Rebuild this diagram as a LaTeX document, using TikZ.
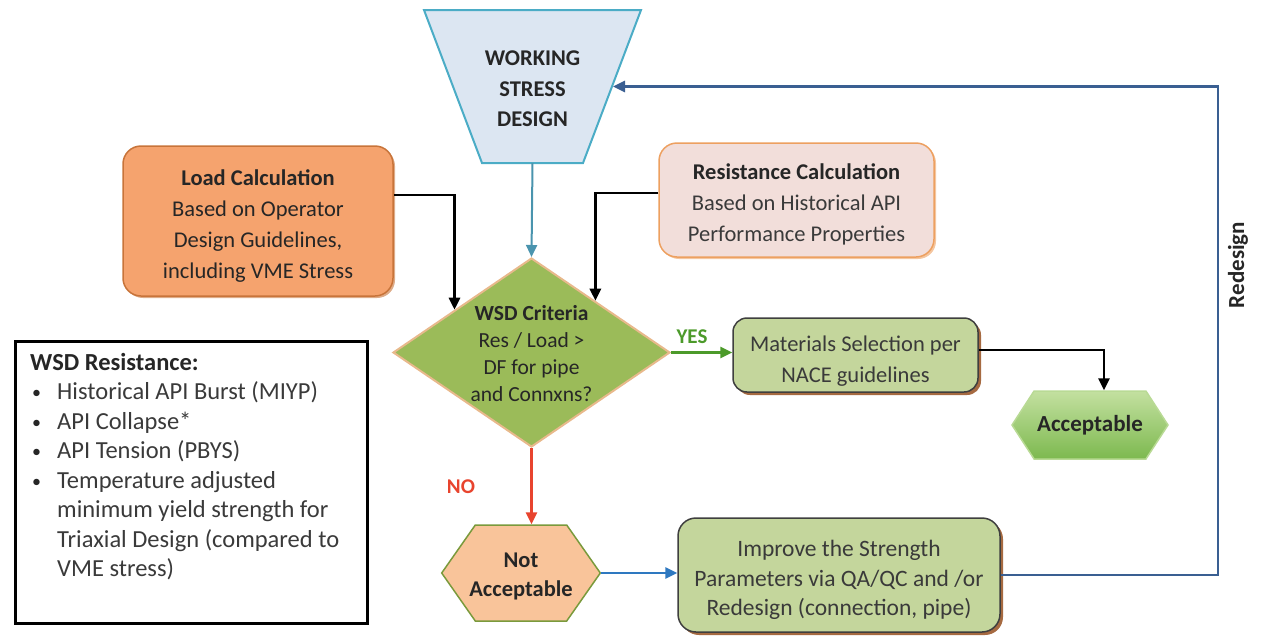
\documentclass[tikz,border=0pt]{standalone}
\usepackage{fontspec}
\setmainfont{Carlito}
\usetikzlibrary{shapes.geometric,shapes.symbols,arrows.meta,shadows,calc}
\definecolor{trapfill}{HTML}{DCE6F2}
\definecolor{trapdraw}{HTML}{4BACC6}
\definecolor{tealarr}{HTML}{4A94AE}
\definecolor{loadfill}{HTML}{F5A36E}
\definecolor{loaddraw}{HTML}{C8743A}
\definecolor{resfill}{HTML}{F2DEDA}
\definecolor{resdraw}{HTML}{EDA060}
\definecolor{critfill}{HTML}{9BBB59}
\definecolor{critdraw}{HTML}{E8B98C}
\definecolor{matfill}{HTML}{C4D69C}
\definecolor{matdraw}{HTML}{3F3F3F}
\definecolor{shbrown}{HTML}{9C5A2C}
\definecolor{acctop}{HTML}{C3E0A0}
\definecolor{accbot}{HTML}{7DB94F}
\definecolor{accdraw}{HTML}{B9DA95}
\definecolor{naccfill}{HTML}{F9C49A}
\definecolor{naccdraw}{HTML}{7A9A3C}
\definecolor{yesgreen}{HTML}{4C9A2A}
\definecolor{nored}{HTML}{E8442E}
\definecolor{bluearr}{HTML}{2E78C0}
\definecolor{redes}{HTML}{3A5F92}
\definecolor{txt}{HTML}{262626}
\definecolor{txtg}{HTML}{3A3A3A}
\newcommand{\wsdbul}{\makebox[27pt][l]{\hspace{2pt}\raisebox{1pt}{\fontsize{18}{18}\selectfont\textbullet}}}
\newcommand{\wsdind}{\hspace*{27pt}}
\newcommand{\tup}{\rule{0pt}{25pt}}
\begin{document}
\begin{tikzpicture}[x=1pt,y=-1pt,
  every node/.style={font=\fontsize{22.5}{31}\selectfont, text=txt},
  rbox/.style={draw, rounded corners=18pt, line width=1.5pt, align=center, inner sep=0},
  hexa/.style={signal, signal to=east and west, line width=1.5pt, inner xsep=-6pt, inner ysep=2pt, align=center},
  arr/.style={line width=2.7pt, -{Triangle[length=12pt,width=11pt]}},
  lbl/.style={font=\fontsize{21}{22}\selectfont\bfseries}
]
\useasboundingbox (0,0) rectangle (1262,638);

% top trapezoid
\path[draw=trapdraw, line width=2pt, fill=trapfill]
  (424,10) -- (641,10) -- (583,163) -- (482,163) -- cycle;
\node[align=center, font=\fontsize{22.5}{30.5}\selectfont\bfseries] (wsd) at (532.5,89) {WORKING\\STRESS\\DESIGN};
\coordinate (wsdS) at (532.5,163);
\coordinate (wsdE) at (613,86.5);

% load calculation
\node[rbox, draw=loaddraw, fill=loadfill, minimum width=270pt, minimum height=150pt,
      drop shadow={shadow xshift=2pt, shadow yshift=-2pt, fill=loaddraw, opacity=0.6}]
      (load) at (258,221) {\tup{\bfseries Load Calculation}\\Based on Operator\\Design Guidelines,\\including VME Stress};

% resistance calculation
\node[rbox, draw=resdraw, fill=resfill, minimum width=275pt, minimum height=114pt,
      drop shadow={shadow xshift=2pt, shadow yshift=-2pt, fill=resdraw, opacity=0.6}]
      (res) at (796.5,200) {\tup{\bfseries Resistance Calculation}\\\textcolor{txtg}{Based on Historical API}\\\textcolor{txtg}{Performance Properties}};

% criteria diamond
\node[diamond, minimum width=277pt, minimum height=189pt, inner sep=1pt,
      draw=critdraw, line width=2pt, fill=critfill] (crit) at (531.5,352.5) {};
\node[align=center, font=\fontsize{21.5}{27}\selectfont] (critt) at (531.5,354)
      {{\bfseries WSD Criteria}\\Res / Load >\\DF for pipe\\and Connxns?};

% materials selection
\node[rbox, draw=matdraw, fill=matfill, minimum width=245pt, minimum height=74pt, rounded corners=14pt,
      drop shadow={shadow xshift=3pt, shadow yshift=-3pt, fill=shbrown, opacity=0.9}]
      (mat) at (855.5,355) {\rule{0pt}{27pt}\textcolor{txtg}{Materials Selection per}\\\textcolor{txtg}{NACE guidelines}};

% acceptable
\node[hexa, signal pointer angle=114, minimum width=156pt, minimum height=68pt,
      draw=accdraw, top color=acctop, bottom color=accbot,
      font=\fontsize{23}{31}\selectfont\bfseries]
      (acc) at (1090,425) {Acceptable};

% not acceptable
\node[hexa, signal pointer angle=110, minimum width=158pt, minimum height=96pt,
      draw=naccdraw, fill=naccfill,
      font=\fontsize{22.5}{29}\selectfont\bfseries]
      (nacc) at (521,573) {\rule{0pt}{22pt}Not\\Acceptable};

% improve
\node[rbox, draw=matdraw, fill=matfill, minimum width=322pt, minimum height=114pt,
      font=\fontsize{23.5}{29.5}\selectfont,
      drop shadow={shadow xshift=3pt, shadow yshift=-3pt, fill=shbrown, opacity=0.9}]
      (imp) at (839,575) {\rule{0pt}{27pt}\textcolor{txtg}{Improve the Strength}\\\textcolor{txtg}{Parameters via QA/QC and /or}\\\textcolor{txtg}{Redesign (connection, pipe)}};

% WSD resistance box
\node[draw=black, line width=3pt, minimum width=352pt, minimum height=282pt, inner sep=0, anchor=north west]
      (wsdres) at (14,340) {};
\node[anchor=north west, align=left, inner sep=0, font=\fontsize{24.5}{29.5}\selectfont]
      (wsdrest) at (30,353) {{\bfseries WSD Resistance:}\\
              \wsdbul\textcolor{txtg}{Historical API Burst (MIYP)}\\
              \wsdbul\textcolor{txtg}{API Collapse*}\\
              \wsdbul\textcolor{txtg}{API Tension (PBYS)}\\
              \wsdbul\textcolor{txtg}{Temperature adjusted}\\
              \wsdind\textcolor{txtg}{minimum yield strength for}\\
              \wsdind\textcolor{txtg}{Triaxial Design (compared to}\\
              \wsdind\textcolor{txtg}{VME stress)}};

% connectors
\draw[arr, tealarr, line width=2pt] (wsdS) -- (crit.north);
\draw[arr, black] ([yshift=26pt]load.east) -| ($(crit.west)!0.448!(crit.north)$);
\draw[arr, black] ([yshift=7pt]res.west) -| ($(crit.north)!0.458!(crit.east)$);
\draw[arr, yesgreen] (crit.east) -- (crit.east -| mat.west);
\node[lbl, text=yesgreen] (yes) at (692,337) {YES};
\draw[arr, black] ([yshift=5pt]mat.east) -| ([xshift=14pt]acc.north);
\draw[arr, nored] (crit.south) -- (crit.south |- nacc.north);
\node[lbl, text=nored] (no) at (461,487) {NO};
\draw[arr, bluearr] (nacc.east) -- (nacc.east -| imp.west);
\coordinate (rd) at (1218,86.5);
\draw[arr, redes, line width=2.7pt] (imp.east) -| (rd) -- (wsdE);
\node[rotate=90, font=\fontsize{23}{26}\selectfont\bfseries] (redesign) at (1238,265) {Redesign};
\end{tikzpicture}
\end{document}
